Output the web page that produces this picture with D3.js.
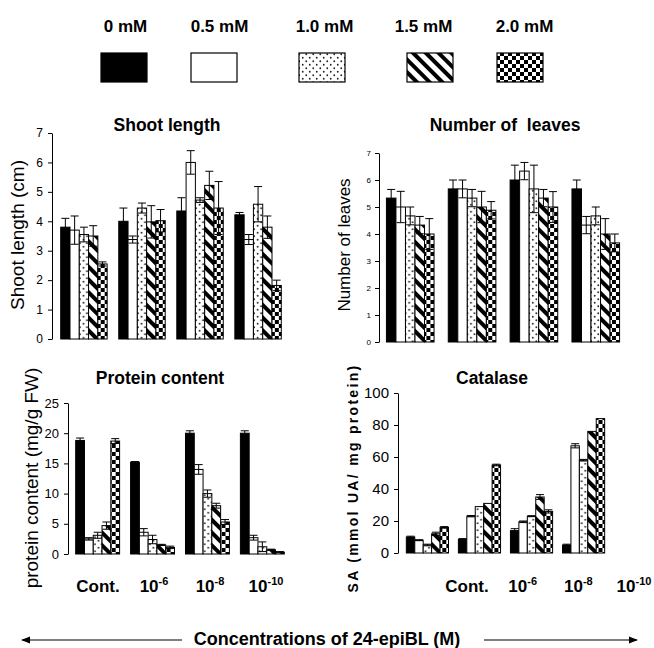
<!DOCTYPE html>
<html>
<head>
<meta charset="utf-8">
<script src="https://cdn.jsdelivr.net/npm/d3@7"></script>
<style>
  body { margin: 0; background: #fff; }
  svg { font-family: Arial, "Liberation Sans", sans-serif; }
</style>
</head>
<body>
<svg id="chart" width="654" height="648"></svg>
<script>
// doses (legend) and concentrations (groups)
const doses = ['0 mM', '0.5 mM', '1.0 mM', '1.5 mM', '2.0 mM'];
const concentrations = ['Cont.', '10-6', '10-8', '10-10'];

// values per concentration group, one entry per dose
const shootMean = [[3.8, 3.7, 3.55, 3.5, 2.55], [4.0, 3.38, 4.45, 3.98, 4.02], [4.35, 6.0, 4.72, 5.22, 4.45], [4.22, 3.38, 4.58, 3.8, 1.82]];
const shootErr  = [[0.3, 0.48, 0.25, 0.35, 0.07], [0.45, 0.12, 0.17, 0.55, 0.38], [0.45, 0.4, 0.08, 0.48, 0.9], [0.08, 0.17, 0.6, 0.38, 0.18]];

const leavesMean = [[5.33, 5.0, 4.67, 4.33, 4.0], [5.67, 5.67, 5.33, 5.0, 4.88], [6.0, 6.33, 5.67, 5.33, 5.0], [5.67, 4.33, 4.67, 4.0, 3.67]];
const leavesErr  = [[0.32, 0.58, 0.33, 0.32, 0.57], [0.33, 0.33, 0.32, 0.58, 0.32], [0.55, 0.32, 0.88, 0.32, 0.57], [0.33, 0.32, 0.33, 0.57, 0.33]];

const proteinMean = [[18.8, 2.5, 3.1, 4.7, 18.7], [15.2, 3.6, 2.4, 1.5, 1.1], [20.0, 14.0, 10.0, 8.0, 5.3], [20.0, 2.7, 1.2, 0.7, 0.3]];
const proteinErr  = [[0.4, 0.2, 0.5, 0.6, 0.4], [0.1, 0.6, 0.7, 0.1, 0.2], [0.4, 0.8, 0.6, 0.4, 0.4], [0.4, 0.4, 0.8, 0.1, 0.1]];

const catalaseMean = [[10, 8, 5, 12, 16], [8.5, 23, 29, 31, 55], [14, 19.5, 23, 35, 26], [5, 67, 58, 76, 84]];
const catalaseErr  = [[0.5, 0.3, 0.5, 1, 0.5], [0.5, 0.4, 0, 0, 0.5], [1.2, 0.5, 0.3, 1.5, 1], [0.5, 1.3, 0.5, 0, 0]];

const svg = d3.select('#chart');

// fill patterns
const defs = svg.append('defs');
const dots = defs.append('pattern').attr('id', 'dots')
  .attr('patternUnits', 'userSpaceOnUse').attr('width', 7).attr('height', 7);
dots.append('rect').attr('width', 7).attr('height', 7).attr('fill', '#fff');
dots.append('circle').attr('cx', 1.75).attr('cy', 1.75).attr('r', 0.9).attr('fill', '#222');
dots.append('circle').attr('cx', 5.25).attr('cy', 5.25).attr('r', 0.9).attr('fill', '#222');

const stripes = defs.append('pattern').attr('id', 'stripes')
  .attr('patternUnits', 'userSpaceOnUse').attr('width', 9).attr('height', 9)
  .attr('patternTransform', 'rotate(-45)');
stripes.append('rect').attr('width', 9).attr('height', 9).attr('fill', '#fff');
stripes.append('rect').attr('width', 4).attr('height', 9).attr('fill', '#000');

const checks = defs.append('pattern').attr('id', 'checks')
  .attr('patternUnits', 'userSpaceOnUse').attr('width', 8).attr('height', 8);
checks.append('rect').attr('width', 8).attr('height', 8).attr('fill', '#fff');
checks.append('rect').attr('width', 4).attr('height', 4).attr('fill', '#000');
checks.append('rect').attr('x', 4).attr('y', 4).attr('width', 4).attr('height', 4).attr('fill', '#000');

const fills = ['#000', '#fff', 'url(#dots)', 'url(#stripes)', 'url(#checks)'];
const fill = d3.scaleOrdinal().domain(doses).range(fills);

// legend
const legX = d3.scalePoint().domain(doses).range([124, 520]);
const boxShift = [0, -9, 0, 9, 0];
const textShift = [1.5, -3.5, 2.5, 2.5, 4.5];
const leg = svg.append('g').selectAll('g').data(doses).join('g')
  .attr('transform', d => `translate(${legX(d)},0)`);
leg.append('text').attr('x', (d, i) => textShift[i]).attr('y', 32).attr('text-anchor', 'middle')
  .attr('font-size', 17).attr('font-weight', 'bold').text(d => d);
leg.append('rect').attr('x', (d, i) => boxShift[i] - 23).attr('y', 53).attr('width', 46).attr('height', 29)
  .attr('fill', d => fill(d)).attr('stroke', '#000').attr('stroke-width', 1.2);

function drawPanel(cfg) {
  const g = svg.append('g');
  const x0 = d3.scaleBand().domain(concentrations).range(cfg.xr)
    .paddingInner(cfg.pi).paddingOuter(cfg.po);
  const x1 = d3.scaleBand().domain(doses).range([0, x0.bandwidth()]);
  const y = d3.scaleLinear().domain([0, cfg.max]).range(cfg.yr);

  const axis = g.append('g').attr('transform', `translate(${cfg.xr[0]},0)`)
    .call(d3.axisLeft(y).tickValues(d3.range(0, cfg.max + 0.001, cfg.step))
      .tickFormat(d3.format('d'))
      .tickSize(4).tickSizeOuter(0).tickPadding(cfg.pad || 4));
  axis.selectAll('text').attr('font-size', cfg.tickFont).attr('fill', '#000')
    .attr('font-family', 'Arial, "Liberation Sans", sans-serif');
  axis.selectAll('line, path').attr('stroke', '#000');

  const groups = g.append('g').selectAll('g').data(concentrations).join('g')
    .attr('transform', d => `translate(${x0(d)},0)`);

  groups.selectAll('rect').data((c, gi) => doses.map((d, di) => ({ d, v: cfg.mean[gi][di], e: cfg.err[gi][di] })))
    .join('rect')
    .attr('x', p => x1(p.d)).attr('width', x1.bandwidth())
    .attr('y', p => y(p.v)).attr('height', p => y(0) - y(p.v))
    .attr('fill', p => fill(p.d)).attr('stroke', '#000').attr('stroke-width', 1);

  const eb = groups.selectAll('g.err').data((c, gi) => doses.map((d, di) => ({ d, v: cfg.mean[gi][di], e: cfg.err[gi][di] })).filter(p => p.e > 0))
    .join('g').attr('class', 'err');
  eb.append('line')
    .attr('x1', p => x1(p.d) + x1.bandwidth() / 2).attr('x2', p => x1(p.d) + x1.bandwidth() / 2)
    .attr('y1', p => y(p.v - p.e)).attr('y2', p => y(p.v + p.e))
    .attr('stroke', '#000').attr('stroke-width', 1);
  [1, -1].forEach(s => {
    eb.append('line')
      .attr('x1', p => x1(p.d) + x1.bandwidth() / 2 - 4).attr('x2', p => x1(p.d) + x1.bandwidth() / 2 + 4)
      .attr('y1', p => y(p.v + s * p.e)).attr('y2', p => y(p.v + s * p.e))
      .attr('stroke', '#000').attr('stroke-width', 1);
  });

  g.append('text').attr('x', cfg.titleX).attr('y', cfg.titleY).attr('text-anchor', 'middle')
    .attr('font-size', 17.5).attr('font-weight', 'bold').attr('xml:space', 'preserve').text(cfg.title);

  g.append('text').attr('transform', `translate(${cfg.ytX},${cfg.ytY}) rotate(-90)`)
    .attr('text-anchor', 'middle').attr('font-size', cfg.ytFont)
    .attr('font-weight', cfg.ytBold ? 'bold' : 'normal')
    .attr('letter-spacing', cfg.ytSpacing || 0).text(cfg.yTitle);

  if (cfg.labels) {
    const lx = d3.scalePoint().domain(concentrations).range(cfg.labels);
    const lab = g.append('g').selectAll('text').data(concentrations).join('text')
      .attr('x', d => lx(d)).attr('y', 592).attr('text-anchor', 'middle')
      .attr('font-size', 17).attr('font-weight', 'bold');
    lab.each(function (d) {
      const t = d3.select(this);
      if (d.startsWith('10')) {
        t.append('tspan').text('10');
        t.append('tspan').attr('dy', -7).attr('font-size', 11).text(d.slice(2));
      } else {
        t.text(d);
      }
    });
  }
}

drawPanel({ title: 'Shoot length', titleX: 167, titleY: 131, yTitle: 'Shoot length (cm)', ytX: 24, ytY: 235, ytFont: 19,
  xr: [52, 290], pi: 0.2, po: 0.15, yr: [339, 133], max: 7, step: 1, tickFont: 12, pad: 5,
  mean: shootMean, err: shootErr });

drawPanel({ title: 'Number of  leaves', titleX: 505, titleY: 131, yTitle: 'Number of leaves', ytX: 350, ytY: 245, ytFont: 17,
  xr: [379, 627], pi: 0.23, po: 0.12, yr: [342, 153], max: 7, step: 1, tickFont: 8, pad: 4,
  mean: leavesMean, err: leavesErr });

drawPanel({ title: 'Protein content', titleX: 160, titleY: 384, yTitle: 'protein content (mg/g FW)', ytX: 38, ytY: 478, ytFont: 19,
  xr: [68, 292], pi: 0.2, po: 0.14, yr: [554, 403], max: 25, step: 5, tickFont: 13, pad: 5,
  mean: proteinMean, err: proteinErr, labels: [98, 266] });

drawPanel({ title: 'Catalase', titleX: 492, titleY: 384, yTitle: 'SA (mmol UA/ mg protein)', ytX: 358, ytY: 478, ytFont: 14, ytBold: true, ytSpacing: 2.3,
  xr: [398, 613], pi: 0.19, po: 0.16, yr: [553, 393], max: 100, step: 20, tickFont: 15, pad: 5,
  mean: catalaseMean, err: catalaseErr, labels: [467, 634] });

// bottom caption with arrows
defs.append('marker').attr('id', 'arrow').attr('viewBox', '0 0 10 10')
  .attr('refX', 9).attr('refY', 5).attr('markerWidth', 9).attr('markerHeight', 9)
  .attr('orient', 'auto-start-reverse').attr('markerUnits', 'userSpaceOnUse')
  .append('path').attr('d', 'M0,1 L10,5 L0,9 Z').attr('fill', '#000');

svg.append('text').attr('x', 327).attr('y', 645).attr('text-anchor', 'middle')
  .attr('font-size', 18).attr('font-weight', 'bold').text('Concentrations of 24-epiBL (M)');
svg.append('line').attr('x1', 182).attr('x2', 22).attr('y1', 640).attr('y2', 640)
  .attr('stroke', '#000').attr('stroke-width', 1.2).attr('marker-end', 'url(#arrow)');
svg.append('line').attr('x1', 484).attr('x2', 637).attr('y1', 640).attr('y2', 640)
  .attr('stroke', '#000').attr('stroke-width', 1.2).attr('marker-end', 'url(#arrow)');
</script>
</body>
</html>
